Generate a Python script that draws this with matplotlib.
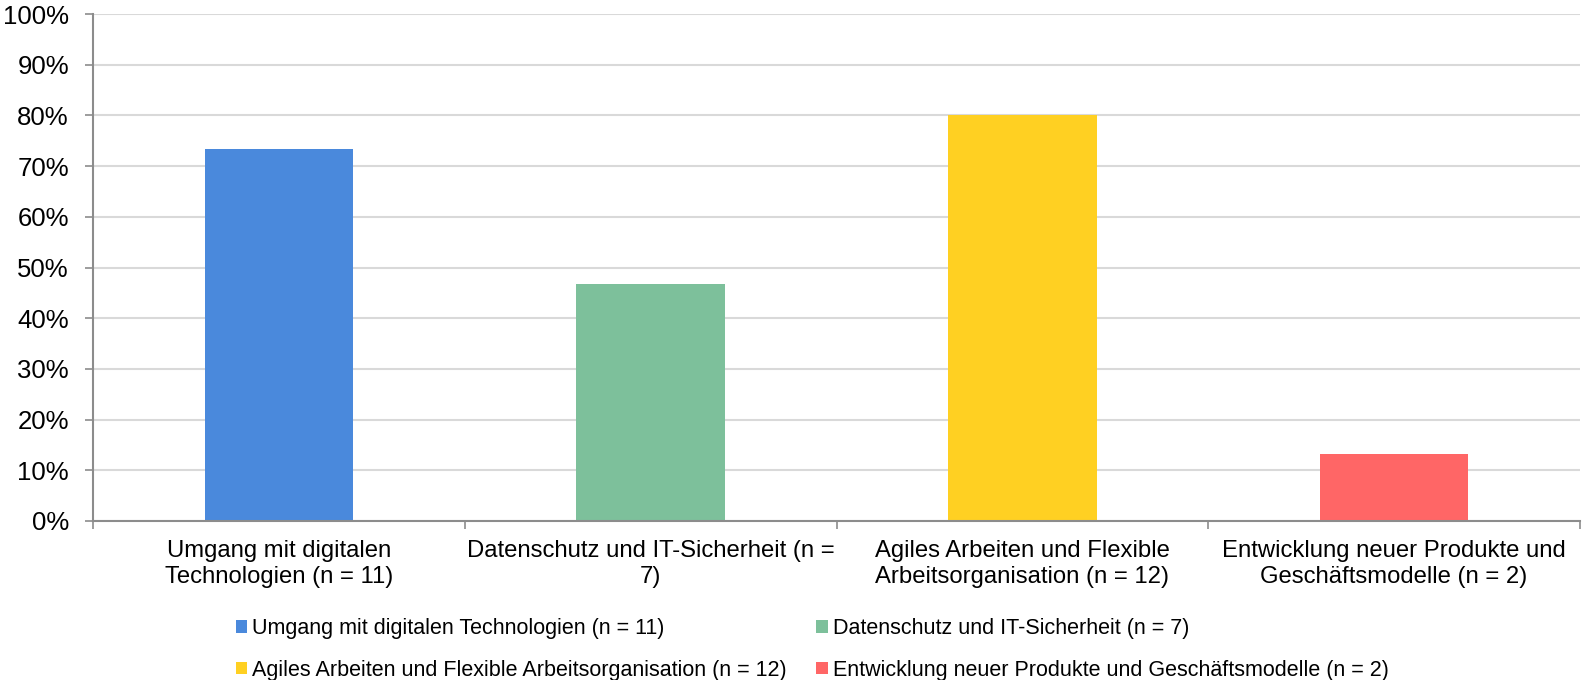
import matplotlib
matplotlib.use("Agg")
import matplotlib.pyplot as plt
from matplotlib.patches import Patch
from matplotlib.ticker import FuncFormatter

plt.rcParams['font.family'] = ['Liberation Sans', 'DejaVu Sans']

categories = [
    "Umgang mit digitalen Technologien (n = 11)",
    "Datenschutz und IT-Sicherheit (n = 7)",
    "Agiles Arbeiten und Flexible Arbeitsorganisation (n = 12)",
    "Entwicklung neuer Produkte und Geschäftsmodelle (n = 2)",
]
tick_labels = [
    "Umgang mit digitalen\nTechnologien (n = 11)",
    "Datenschutz und IT-Sicherheit (n =\n7)",
    "Agiles Arbeiten und Flexible\nArbeitsorganisation (n = 12)",
    "Entwicklung neuer Produkte und\nGeschäftsmodelle (n = 2)",
]
values = [0.733, 0.467, 0.800, 0.133]
colors = ["#4A89DC", "#7DC09B", "#FFD022", "#FF6666"]
y_ticks = [0, 0.1, 0.2, 0.3, 0.4, 0.5, 0.6, 0.7, 0.8, 0.9, 1.0]

W, H = 1582, 680
fig = plt.figure(figsize=(W / 100, H / 100), dpi=100)
ax = fig.add_axes([93 / W, 1 - 521 / H, (1580 - 93) / W, (521 - 14) / H])

x = list(range(len(categories)))
ax.bar(x, values, width=0.4, color=colors, zorder=3)

ax.set_xlim(-0.5, len(categories) - 0.5)
ax.set_ylim(0, 1.0)
ax.set_yticks(y_ticks)
ax.yaxis.set_major_formatter(FuncFormatter(lambda v, p: f"{v*100:.0f}%"))
ax.tick_params(axis='y', labelsize=18.5, length=5.8, width=1.2, color='#8c8c8c', pad=11.5, labelcolor='#000000')
ax.grid(axis='y', color='#d9d9d9', linewidth=1.5, zorder=0)

# category boundary ticks, labels on minor ticks at centers
ax.set_xticks([i - 0.5 for i in range(len(categories) + 1)])
ax.set_xticklabels([])
ax.tick_params(axis='x', which='major', length=5.8, width=1.2, color='#8c8c8c')
ax.set_xticks(x, minor=True)
ax.set_xticklabels(tick_labels, minor=True, fontsize=17.2, linespacing=1.22)
ax.tick_params(axis='x', which='minor', length=0, pad=14)

for s in ['top', 'right']:
    ax.spines[s].set_visible(False)
for s in ['left', 'bottom']:
    ax.spines[s].set_color('#8c8c8c')
    ax.spines[s].set_linewidth(1.5)
    ax.spines[s].set_zorder(4)

# legend rows: (Umgang, Datenschutz), (Agiles, Entwicklung)
order = [0, 2, 1, 3]
handles = [Patch(facecolor=colors[i], edgecolor='none') for i in order]
labels = [categories[i] for i in order]
fig.legend(handles, labels, loc='center', bbox_to_anchor=(812 / W, 1 - 649.5 / H),
           ncol=2, frameon=False, fontsize=15.5, handlelength=0.52, handleheight=0.52,
           handletextpad=0.23, columnspacing=1.4, labelspacing=0.95, borderpad=0)

fig.savefig("out.png", dpi=100)
